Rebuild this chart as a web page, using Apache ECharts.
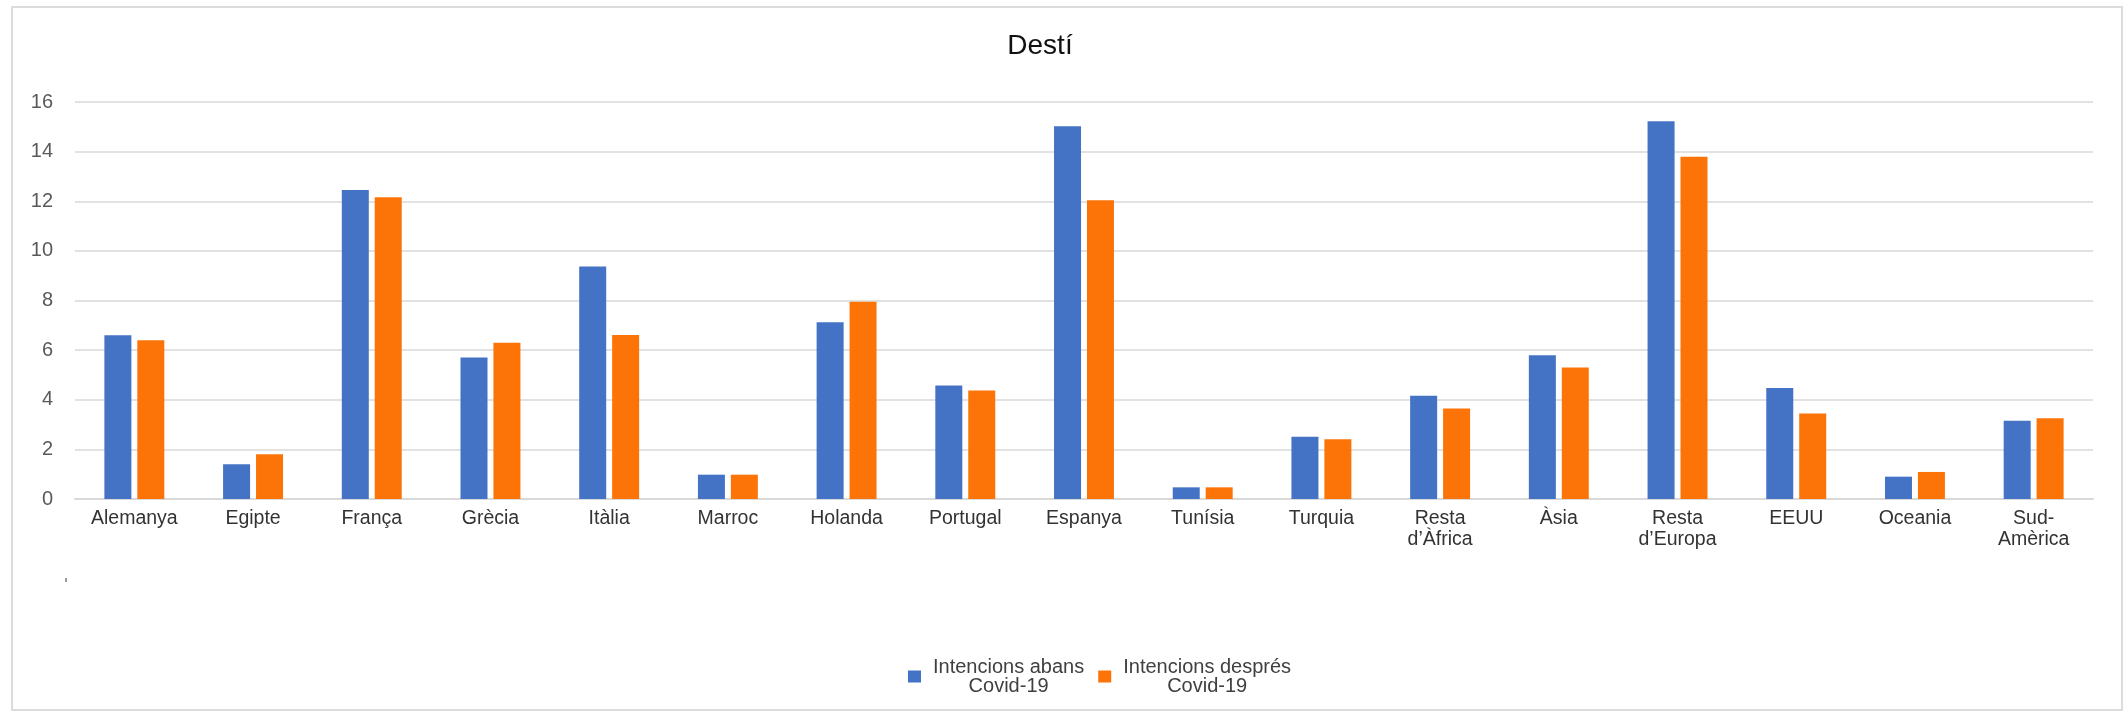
<!DOCTYPE html>
<html>
<head>
<meta charset="utf-8">
<script src="https://cdn.jsdelivr.net/npm/echarts@6/dist/echarts.min.js"></script>
<style>
html,body{margin:0;padding:0;background:#fff;}
#chart{width:2126px;height:717px;}
</style>
</head>
<body>
<div id="chart"></div>
<script>
const categories = ['Alemanya','Egipte','França','Grècia','Itàlia','Marroc','Holanda','Portugal','Espanya','Tunísia','Turquia','Resta\nd\u2019Àfrica','Àsia','Resta\nd\u2019Europa','EEUU','Oceania','Sud-\nAmèrica'];
const abans   = [6.6, 1.4, 12.45, 5.7, 9.37, 0.98, 7.12, 4.57, 15.02, 0.47, 2.51, 4.16, 5.79, 15.22, 4.47, 0.9, 3.15];
const despres = [6.4, 1.8, 12.16, 6.3, 6.61, 0.98, 7.95, 4.37, 12.04, 0.47, 2.41, 3.65, 5.3, 13.79, 3.45, 1.09, 3.25];
const seriesNames = ['Intencions abans\nCovid-19', 'Intencions després\nCovid-19'];
const yTicks = [0, 2, 4, 6, 8, 10, 12, 14, 16];

const font = "'Liberation Sans', Arial, Helvetica, sans-serif";
const chart = echarts.init(document.getElementById('chart'));
chart.setOption({
  backgroundColor: '#ffffff',
  animation: false,
  title: {
    text: 'Destí',
    left: 1040,
    top: 32,
    textAlign: 'center',
    padding: 0,
    textStyle: {fontFamily: font, fontSize: 28, fontWeight: 'normal', color: '#111'}
  },
  graphic: [
    {type: 'rect', shape: {x: 12, y: 7, width: 2110, height: 703}, style: {fill: 'none', stroke: '#dcdcdc', lineWidth: 2}, z: -1},
    {type: 'rect', shape: {x: 65, y: 578, width: 2, height: 4}, style: {fill: '#9a9a9a'}}
  ],
  legend: {
    left: 908,
    top: 657,
    padding: 0,
    itemGap: 14,
    itemWidth: 13,
    itemHeight: 12,
    icon: 'rect',
    data: seriesNames,
    formatter: function (name) {
      return name.split('\n').map(function (l) { return '{a|' + l + '}'; }).join('\n');
    },
    textStyle: {
      fontFamily: font, fontSize: 20, color: '#404040',
      rich: {a: {fontFamily: font, fontSize: 20, color: '#404040', align: 'center', lineHeight: 19, padding: [0, 0, 0, 7]}}
    }
  },
  grid: {left: 75, right: 33, top: 102, bottom: 218, containLabel: false},
  xAxis: {
    type: 'category',
    data: categories,
    axisTick: {show: false},
    axisLine: {lineStyle: {color: '#d9d9d9', width: 2}},
    axisLabel: {interval: 0, margin: 9, fontFamily: font, fontSize: 19.5, color: '#333', lineHeight: 21}
  },
  yAxis: {
    type: 'value',
    min: 0,
    max: 16,
    interval: 2,
    axisLine: {show: false},
    axisTick: {show: false},
    splitLine: {lineStyle: {color: '#e2e2e2', width: 2}},
    axisLabel: {margin: 22, fontFamily: font, fontSize: 20, color: '#595959',
      formatter: function (v) { return yTicks.indexOf(v) >= 0 ? String(v) : ''; }}
  },
  series: [
    {name: seriesNames[0], type: 'bar', data: abans, barWidth: 27, barGap: '22%', itemStyle: {color: '#4472C4'}},
    {name: seriesNames[1], type: 'bar', data: despres, barWidth: 27, barGap: '22%', itemStyle: {color: '#FC7308'}}
  ]
});
</script>
</body>
</html>
